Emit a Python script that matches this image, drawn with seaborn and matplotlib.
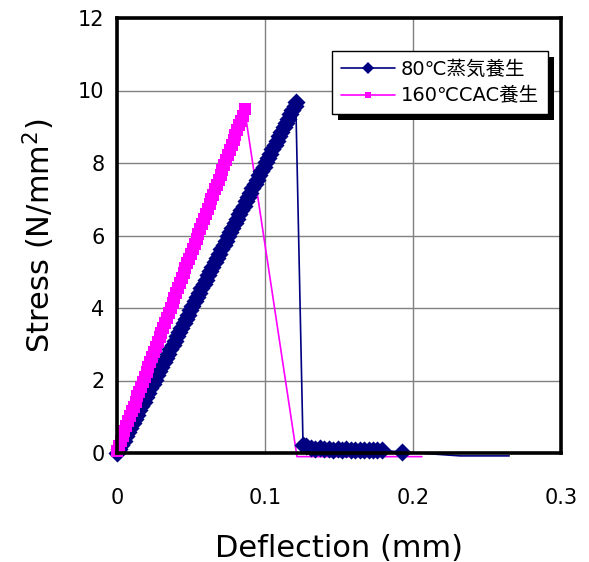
import matplotlib
matplotlib.use("Agg")
import matplotlib.pyplot as plt
import matplotlib.patches as mpatches
import matplotlib.transforms as mtransforms
from matplotlib.lines import Line2D
import pandas as pd
import seaborn as sns

# --- data -------------------------------------------------------------
steam_label = "80℃蒸気養生"
cac_label = "160℃CAC養生"

steam_deflection = [
    0.0000, 0.0015, 0.0030, 0.0045, 0.0060, 0.0075, 0.0090, 0.0105, 0.0120, 0.0135,
    0.0150, 0.0165, 0.0180, 0.0195, 0.0210, 0.0225, 0.0240, 0.0255, 0.0270, 0.0285,
    0.0300, 0.0315, 0.0330, 0.0345, 0.0360, 0.0375, 0.0390, 0.0405, 0.0420, 0.0435,
    0.0450, 0.0465, 0.0480, 0.0495, 0.0510, 0.0525, 0.0540, 0.0555, 0.0570, 0.0585,
    0.0600, 0.0615, 0.0630, 0.0645, 0.0660, 0.0675, 0.0690, 0.0705, 0.0720, 0.0735,
    0.0750, 0.0765, 0.0780, 0.0795, 0.0810, 0.0825, 0.0840, 0.0855, 0.0870, 0.0885,
    0.0900, 0.0915, 0.0930, 0.0945, 0.0960, 0.0975, 0.0990, 0.1005, 0.1020, 0.1035,
    0.1050, 0.1065, 0.1080, 0.1095, 0.1110, 0.1125, 0.1140, 0.1155, 0.1170, 0.1185,
    0.1200, 0.1208,
    0.1257, 0.128, 0.131, 0.134, 0.137, 0.140, 0.143, 0.146, 0.149, 0.152,
    0.155, 0.158, 0.161, 0.164, 0.167, 0.170, 0.173, 0.176, 0.179, 0.1926,
    0.232, 0.240, 0.248, 0.256, 0.265,
]
steam_stress = [
    0.00, 0.11, 0.22, 0.34, 0.46, 0.58, 0.70, 0.82, 0.94, 1.06,
    1.18, 1.30, 1.42, 1.54, 1.66, 1.78, 1.90, 2.02, 2.14, 2.26,
    2.38, 2.50, 2.62, 2.74, 2.86, 2.98, 3.10, 3.22, 3.34, 3.46,
    3.58, 3.70, 3.82, 3.94, 4.06, 4.18, 4.30, 4.42, 4.54, 4.66,
    4.78, 4.90, 5.02, 5.14, 5.26, 5.38, 5.50, 5.62, 5.74, 5.86,
    5.98, 6.10, 6.22, 6.34, 6.46, 6.58, 6.70, 6.82, 6.94, 7.06,
    7.18, 7.30, 7.42, 7.54, 7.66, 7.78, 7.90, 8.02, 8.14, 8.26,
    8.38, 8.50, 8.62, 8.74, 8.86, 8.98, 9.10, 9.22, 9.34, 9.46,
    9.58, 9.68,
    0.22, 0.18, 0.15, 0.12, 0.13, 0.10, 0.12, 0.09, 0.10, 0.08,
    0.10, 0.07, 0.09, 0.08, 0.07, 0.08, 0.07, 0.08, 0.07, 0.03,
    -0.08, -0.08, -0.08, -0.08, -0.08,
]

cac_deflection = [
    0.00000, 0.00125, 0.00250, 0.00375, 0.00500, 0.00625, 0.00750, 0.00875, 0.01000, 0.01125,
    0.01250, 0.01375, 0.01500, 0.01625, 0.01750, 0.01875, 0.02000, 0.02125, 0.02250, 0.02375,
    0.02500, 0.02625, 0.02750, 0.02875, 0.03000, 0.03125, 0.03250, 0.03375, 0.03500, 0.03625,
    0.03750, 0.03875, 0.04000, 0.04125, 0.04250, 0.04375, 0.04500, 0.04625, 0.04750, 0.04875,
    0.05000, 0.05125, 0.05250, 0.05375, 0.05500, 0.05625, 0.05750, 0.05875, 0.06000, 0.06125,
    0.06250, 0.06375, 0.06500, 0.06625, 0.06750, 0.06875, 0.07000, 0.07125, 0.07250, 0.07375,
    0.07500, 0.07625, 0.07750, 0.07875, 0.08000, 0.08125, 0.08250, 0.08375, 0.08500, 0.08620,
    0.1216, 0.126, 0.131, 0.136, 0.141, 0.146, 0.151, 0.156, 0.161, 0.166,
    0.171, 0.176, 0.181, 0.186, 0.191, 0.196, 0.201, 0.206,
]
cac_stress = [
    0.06, 0.20, 0.33, 0.47, 0.60, 0.74, 0.88, 1.01, 1.15, 1.28,
    1.42, 1.56, 1.69, 1.83, 1.96, 2.10, 2.24, 2.37, 2.51, 2.64,
    2.78, 2.92, 3.05, 3.19, 3.32, 3.46, 3.60, 3.73, 3.87, 4.00,
    4.14, 4.28, 4.41, 4.55, 4.68, 4.82, 4.96, 5.09, 5.23, 5.36,
    5.50, 5.64, 5.77, 5.91, 6.04, 6.18, 6.32, 6.45, 6.59, 6.72,
    6.86, 7.00, 7.13, 7.27, 7.40, 7.54, 7.68, 7.81, 7.95, 8.08,
    8.22, 8.36, 8.49, 8.63, 8.76, 8.90, 9.04, 9.17, 9.31, 9.48,
    -0.10, -0.10, -0.10, -0.10, -0.10, -0.10, -0.10, -0.10, -0.10, -0.10,
    -0.10, -0.10, -0.10, -0.10, -0.10, -0.10, -0.10, -0.10,
]

x_ticks = [0.0, 0.1, 0.2, 0.3]
x_tick_labels = ["0", "0.1", "0.2", "0.3"]
y_ticks = [0, 2, 4, 6, 8, 10, 12]
y_tick_labels = ["0", "2", "4", "6", "8", "10", "12"]

# --- style ------------------------------------------------------------
sns.set_style("white")
plt.rcParams["font.family"] = ["DejaVu Sans", "Noto Sans CJK JP"]
plt.rcParams["text.color"] = "black"
plt.rcParams["axes.labelcolor"] = "black"
plt.rcParams["xtick.color"] = "black"
plt.rcParams["ytick.color"] = "black"

steam_color = "#000080"
cac_color = "#ff00ff"

fig = plt.figure(figsize=(5.89, 5.62), dpi=100)
ax = fig.add_axes([117 / 589, 1 - 453 / 562, (561 - 117) / 589, (453 - 18) / 562])

steam_df = pd.DataFrame({"Deflection": steam_deflection, "Stress": steam_stress})
cac_df = pd.DataFrame({"Deflection": cac_deflection, "Stress": cac_stress})

# connecting lines (full record, running just below the axis at the end)
sns.lineplot(data=cac_df, x="Deflection", y="Stress", ax=ax, sort=False,
             estimator=None, color=cac_color, linewidth=1.2, clip_on=False,
             zorder=1.9, legend=False)
sns.lineplot(data=steam_df, x="Deflection", y="Stress", ax=ax, sort=False,
             estimator=None, color=steam_color, linewidth=1.2, clip_on=False,
             zorder=2.0, legend=False)

# point markers for readings inside the plotted range
sns.scatterplot(data=steam_df[steam_df["Stress"] >= 0], x="Deflection", y="Stress",
                ax=ax, color=steam_color, marker="D", s=85, linewidth=0,
                clip_on=False, zorder=2.1, legend=False)
sns.scatterplot(data=cac_df[cac_df["Stress"] >= 0], x="Deflection", y="Stress",
                ax=ax, color=cac_color, marker="s", s=66, linewidth=0,
                clip_on=False, zorder=2.2, legend=False)

ax.set_xlim(0, 0.3)
ax.set_ylim(0, 12)
ax.set_xticks(x_ticks)
ax.set_xticklabels(x_tick_labels)
ax.set_yticks(y_ticks)
ax.set_yticklabels(y_tick_labels)
ax.tick_params(axis="both", length=0, labelsize=15, colors="black")
ax.tick_params(axis="x", pad=25)
ax.tick_params(axis="y", pad=9)

ax.grid(True, color="#808080", linewidth=1.0)
ax.set_axisbelow(True)
for side in ax.spines.values():
    side.set_visible(True)
    side.set_color("black")
    side.set_linewidth(2.6)
    side.set_zorder(3)

ax.set_xlabel("Deflection (mm)", fontsize=22, labelpad=19)
ax.set_ylabel(r"Stress (N/mm$^{2}$)", fontsize=22, labelpad=15)

handles = [
    Line2D([], [], color=steam_color, linewidth=1.2, marker="D", markersize=6,
           markeredgewidth=0),
    Line2D([], [], color=cac_color, linewidth=1.2, marker="s", markersize=5,
           markeredgewidth=0),
]
leg = ax.legend(handles, [steam_label, cac_label], loc="upper left",
                bbox_to_anchor=(0.484, 0.924), borderaxespad=0, fontsize=14,
                frameon=True, fancybox=False, framealpha=1.0,
                handlelength=2.8, handletextpad=0.3, labelspacing=0.4,
                borderpad=0.45)
leg.get_frame().set_edgecolor("black")
leg.get_frame().set_linewidth(1.0)
leg.set_zorder(6)

# solid drop shadow behind the legend box
fig.canvas.draw()
bb = leg.get_window_extent()
shadow = mpatches.Rectangle((bb.x0 + 6, bb.y0 - 6), bb.width, bb.height,
                            transform=mtransforms.IdentityTransform(),
                            facecolor="black", edgecolor="none", zorder=5.5,
                            clip_on=False)
ax.add_artist(shadow)

fig.savefig("out.png", dpi=100, facecolor="white")
